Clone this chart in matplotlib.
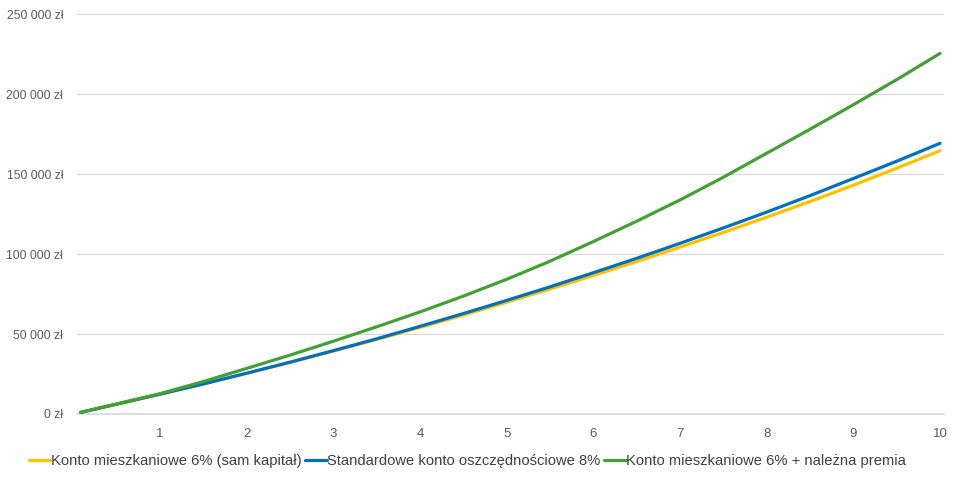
import matplotlib
matplotlib.use('Agg')
import matplotlib.pyplot as plt
from matplotlib.ticker import FuncFormatter

plt.rcParams['font.family'] = ['Liberation Sans', 'DejaVu Sans']

# months since start (one deposit per month)
months = [1, 6, 12, 18, 24, 30, 36, 42, 48, 54, 60, 66, 72, 78, 84, 90, 96, 102, 108, 114, 120]
year_ticks = [12, 24, 36, 48, 60, 72, 84, 96, 108, 120]
year_labels = ['1', '2', '3', '4', '5', '6', '7', '8', '9', '10']

konto_6 = [1000, 6100, 12300, 18700, 25400, 32200, 39300, 46600, 54100, 61800, 69900,
           78100, 86600, 95300, 104300, 113500, 123000, 132800, 143000, 153600, 164600]
standard_8 = [1000, 6200, 12400, 18800, 25500, 32400, 39600, 47000, 54800, 62800, 71000,
              79500, 88300, 97300, 106700, 116300, 126200, 136500, 147200, 158000, 169200]
konto_premia = [1000, 6300, 12700, 20300, 28500, 36800, 45500, 54500, 63800, 73700, 84200,
                95500, 107800, 120500, 133800, 148000, 163000, 178000, 193300, 209000, 225400]

names = ['Konto mieszkaniowe 6% (sam kapitał)',
         'Standardowe konto oszczędnościowe 8%',
         'Konto mieszkaniowe 6% + należna premia']
colors = ['#FFC000', '#0070C0', '#43A035']

fig = plt.figure(figsize=(9.6, 4.8), dpi=100)
ax = fig.add_axes([0.0802, 0.1375, 0.9028, 0.8333])

for vals, name, col in zip([konto_6, standard_8, konto_premia], names, colors):
    ax.plot(months, vals, color=col, lw=2.3, label=name, solid_capstyle='round',
            solid_joinstyle='round')

ax.set_xlim(0.5, 120.5)
ax.set_ylim(0, 250000)
ax.set_yticks(range(0, 250001, 50000))
ax.yaxis.set_major_formatter(FuncFormatter(lambda v, p: f"{v:,.0f}".replace(',', ' ') + ' zł'))
ax.set_xticks(year_ticks)
ax.set_xticklabels(year_labels)

ax.grid(axis='y', color='#d9d9d9', lw=0.9)
ax.axhline(0, color='#d9d9d9', lw=1.2, clip_on=False, zorder=0.5)
ax.set_axisbelow(True)
for s in ax.spines.values():
    s.set_visible(False)
ax.tick_params(axis='both', length=0, colors='#595959')
ax.tick_params(axis='x', pad=10, labelsize=9.5)
ax.tick_params(axis='y', pad=10, labelsize=8.7)

fig.legend(loc='center', bbox_to_anchor=(0.487, 0.04), ncol=3, frameon=False,
           fontsize=10.6, handlelength=1.45, handletextpad=0.05, columnspacing=0.25,
           labelcolor='#404040')

fig.savefig('out.png', dpi=100)
